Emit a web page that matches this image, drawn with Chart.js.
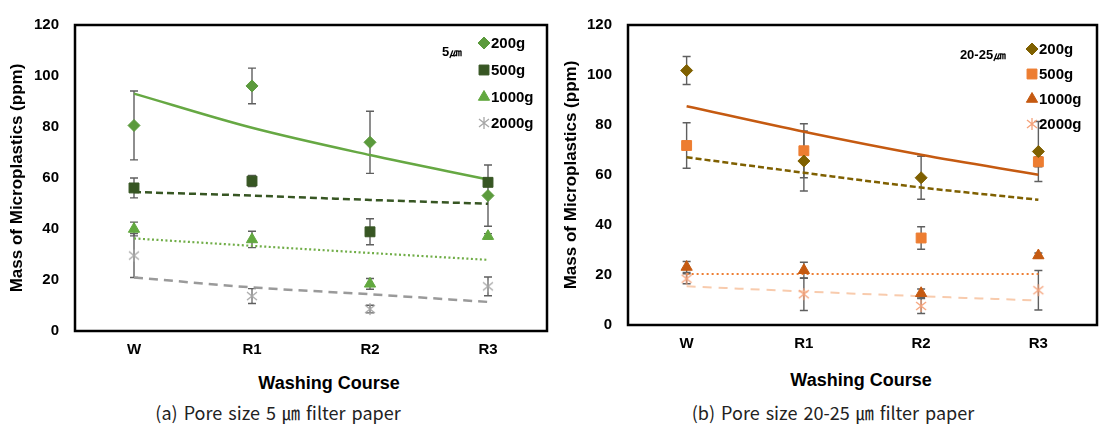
<!DOCTYPE html>
<html lang="en">
<head>
<meta charset="UTF-8">
<title>Mass of Microplastics by Washing Course</title>
<script src="https://cdn.jsdelivr.net/npm/chart.js@4.4.1/dist/chart.umd.min.js"></script>
<style>
  body { margin: 0; background: #fff; font-family: "Liberation Sans", Arial, sans-serif; }
  .wrap { position: relative; width: 1105px; height: 424px; overflow: hidden; }
  .panel { position: absolute; top: 0; }
  .xtitle { position: absolute; font-weight: bold; font-size: 18px; line-height: 20px; transform: translateX(-50%); white-space: nowrap; color: #000; }
  .caption { position: absolute; font-family: "Noto Sans CJK KR", sans-serif; font-size: 18px; line-height: 22px; word-spacing: 2px; transform: translateX(-50%); white-space: nowrap; color: #222; }
</style>
</head>
<body>
<div class="wrap">
  <div class="panel" style="left:0"><canvas id="chart5" width="555" height="360"></canvas></div>
  <div class="panel" style="left:555px"><canvas id="chart20" width="550" height="360"></canvas></div>
  <div class="xtitle" style="left:329px;top:373px">Washing Course</div>
  <div class="xtitle" style="left:861px;top:370px">Washing Course</div>
  <div class="caption" style="left:278px;top:401px">(a) Pore size 5 ㎛ filter paper</div>
  <div class="caption" style="left:833px;top:401px">(b) Pore size 20-25 ㎛ filter paper</div>
</div>

<script>
// categories and ticks
const courses = ['W', 'R1', 'R2', 'R3'];
const loadLabels = ['200g', '500g', '1000g', '2000g'];
const yMin = 0, yMax = 120, yStep = 20;

// (a) 5 um filter paper
const mass200_5 = [80.6, 96.1, 74.0, 53.1];
const err200_5 = [13.5, 7.0, 12.2, 12.0];
const mass500_5 = [56.1, 58.8, 38.9, 58.3];
const err500_5 = [3.9, 2.2, 5.1, 1.0];
const mass1000_5 = [40.0, 35.9, 18.5, 37.2];
const err1000_5 = [2.7, 3.2, 2.1, 1.0];
const mass2000_5 = [29.6, 13.7, 8.6, 17.5];
const err2000_5 = [8.6, 2.9, 1.5, 3.7];
const trend200_5 = [93.1, 79.7, 69.0, 59.4];
const trend500_5 = [54.5, 53.1, 51.4, 49.9];
const trend1000_5 = [36.3, 33.4, 30.6, 27.9];
const trend2000_5 = [21.0, 17.1, 14.4, 11.4];

// (b) 20-25 um filter paper
const mass200_20 = [101.8, 65.6, 58.9, 69.4];
const err200_20 = [5.6, 12.0, 8.6, 12.0];
const mass500_20 = [71.8, 69.7, 34.8, 65.3];
const err500_20 = [9.1, 10.8, 4.5, 2.0];
const mass1000_20 = [23.2, 21.9, 12.7, 27.8];
const err1000_20 = [2.2, 3.2, 1.7, 1.0];
const mass2000_20 = [18.5, 12.3, 7.6, 13.9];
const err2000_20 = [2.0, 6.5, 3.0, 7.9];
const trend200_20 = [87.5, 77.3, 68.1, 60.1];
const trend500_20 = [67.1, 60.9, 55.0, 50.1];
const trend1000_20 = [20.4, 20.4, 20.4, 20.4];
const trend2000_20 = [15.5, 13.4, 11.5, 9.8];

const FONT = '"Liberation Sans", Arial, sans-serif';

// six-armed asterisk marker used for the 2000g series
function asterisk(color) {
  const c = document.createElement('canvas');
  c.width = 14; c.height = 14;
  const g = c.getContext('2d');
  g.strokeStyle = color;
  g.lineWidth = 1.3;
  g.beginPath();
  g.moveTo(2, 3); g.lineTo(12, 11);
  g.moveTo(12, 3); g.lineTo(2, 11);
  g.moveTo(7, 1); g.lineTo(7, 13);
  g.stroke();
  return c;
}

function markers(label, data, errs, style, color, radius) {
  return {
    type: 'line', label: label, data: data, errorBars: errs, inLegend: true,
    showLine: false, pointStyle: style, pointRadius: radius,
    pointBackgroundColor: color, pointBorderColor: color, pointBorderWidth: 1,
    backgroundColor: color, borderColor: color
  };
}

function trend(data, color, width, dash) {
  return {
    type: 'line', label: 'trend', data: data, borderColor: color, borderWidth: width,
    borderDash: dash, pointRadius: 0, cubicInterpolationMode: 'monotone', fill: false
  };
}

// vertical error bars drawn from the y scale
const errorBars = {
  id: 'errorBars',
  beforeDatasetsDraw(chart) {
    const {ctx, scales: {y}} = chart;
    ctx.save();
    ctx.strokeStyle = '#5f5f5f';
    ctx.lineWidth = 1.4;
    chart.data.datasets.forEach((ds, i) => {
      if (!ds.errorBars) return;
      chart.getDatasetMeta(i).data.forEach((pt, j) => {
        const e = ds.errorBars[j];
        const top = y.getPixelForValue(ds.data[j] + e);
        const bot = y.getPixelForValue(ds.data[j] - e);
        ctx.beginPath();
        ctx.moveTo(pt.x, top); ctx.lineTo(pt.x, bot);
        ctx.moveTo(pt.x - 4, top); ctx.lineTo(pt.x + 4, top);
        ctx.moveTo(pt.x - 4, bot); ctx.lineTo(pt.x + 4, bot);
        ctx.stroke();
      });
    });
    ctx.restore();
  }
};

// black box round the plot area
const frame = {
  id: 'frame',
  afterDraw(chart) {
    const {ctx, chartArea: a} = chart;
    ctx.save();
    ctx.strokeStyle = '#000';
    ctx.lineWidth = 2.5;
    ctx.strokeRect(a.left, a.top, a.right - a.left, a.bottom - a.top);
    ctx.restore();
  }
};

// legend inside the plot, top right
const insideLegend = {
  id: 'insideLegend',
  afterDraw(chart, args, o) {
    const {ctx, chartArea: a} = chart;
    ctx.save();
    ctx.textBaseline = 'middle';
    ctx.fillStyle = '#000';
    ctx.font = 'bold 15px ' + FONT;
    chart.data.datasets.filter(d => d.inLegend).forEach((d, i) => {
      const x = a.right - o.dx, yy = a.top + o.rows[i];
      ctx.fillStyle = d.pointBackgroundColor;
      ctx.strokeStyle = d.pointBorderColor;
      ctx.lineWidth = 1;
      Chart.helpers.drawPoint(ctx, {pointStyle: d.pointStyle, radius: d.pointRadius, rotation: 0, borderWidth: 1}, x, yy);
      ctx.fillStyle = '#000';
      ctx.fillText(d.label, x + 7, yy + 1);
    });
    ctx.font = 'bold 13px ' + FONT;
    ctx.textAlign = 'center';
    ctx.fillText(o.note, a.right - o.noteDx, a.top + o.noteDy);
    ctx.restore();
  }
};

function makeChart(id, datasets, area, legend) {
  return new Chart(document.getElementById(id), {
    data: {labels: courses, datasets: datasets},
    options: {
      responsive: false,
      animation: false,
      layout: {padding: {left: 0, right: area.right, top: area.top, bottom: 0}},
      plugins: {legend: {display: false}, tooltip: {enabled: false}, insideLegend: legend},
      scales: {
        x: {
          type: 'category', offset: true,
          grid: {display: false, drawTicks: false}, border: {display: false},
          ticks: {color: '#000', padding: 10, font: {family: FONT, size: 15, weight: 'bold'}},
          afterFit: s => { s.height = area.xh; }
        },
        y: {
          min: yMin, max: yMax,
          grid: {display: false, drawTicks: false}, border: {display: false},
          ticks: {stepSize: yStep, color: '#000', padding: 16, font: {family: FONT, size: 15, weight: 'bold'}},
          title: {display: true, text: 'Mass of Microplastics (ppm)', color: '#000',
                  padding: {top: area.tp, bottom: 0}, font: {family: FONT, size: 17, weight: 'bold'}},
          afterFit: s => { s.width = area.yw; }
        }
      }
    },
    plugins: [errorBars, frame, insideLegend]
  });
}

const g1 = '#5b9a3c', g2 = '#375623', g3 = '#62a83f', gy = '#a6a6a6';
makeChart('chart5', [
  markers(loadLabels[0], mass200_5, err200_5, 'rectRot', g1, 6),
  markers(loadLabels[1], mass500_5, err500_5, 'rect', g2, 7),
  markers(loadLabels[2], mass1000_5, err1000_5, 'triangle', g3, 6.5),
  markers(loadLabels[3], mass2000_5, err2000_5, asterisk(gy), gy, 7),
  trend(trend200_5, '#66a843', 2.5, []),
  trend(trend500_5, '#375623', 2.5, [7, 4]),
  trend(trend1000_5, '#70ad47', 2.2, [2, 2.5]),
  trend(trend2000_5, '#9a9a9a', 2.5, [9, 6])
], {right: 7, top: 16, xh: 29, yw: 75, tp: 7},
   {dx: 63, rows: [18, 45, 72, 98], note: '5㎛', noteDx: 95, noteDy: 27});

const o1 = '#7f6000', o2 = '#ed7d31', o3 = '#c55a11', o4 = '#f5a27a';
makeChart('chart20', [
  markers(loadLabels[0], mass200_20, err200_20, 'rectRot', o1, 6),
  markers(loadLabels[1], mass500_20, err500_20, 'rect', o2, 7),
  markers(loadLabels[2], mass1000_20, err1000_20, 'triangle', o3, 6.5),
  markers(loadLabels[3], mass2000_20, err2000_20, asterisk(o4), o4, 7),
  trend(trend200_20, '#c55a11', 2.5, []),
  trend(trend500_20, '#7f6000', 2.5, [6, 3]),
  trend(trend1000_20, '#ed7d31', 2, [2, 3]),
  trend(trend2000_20, '#f8cbad', 2, [9, 7])
], {right: 3, top: 11, xh: 35, yw: 73, tp: 6},
   {dx: 65, rows: [24, 49, 74, 99], note: '20-25㎛', noteDx: 114, noteDy: 30});
</script>
</body>
</html>
